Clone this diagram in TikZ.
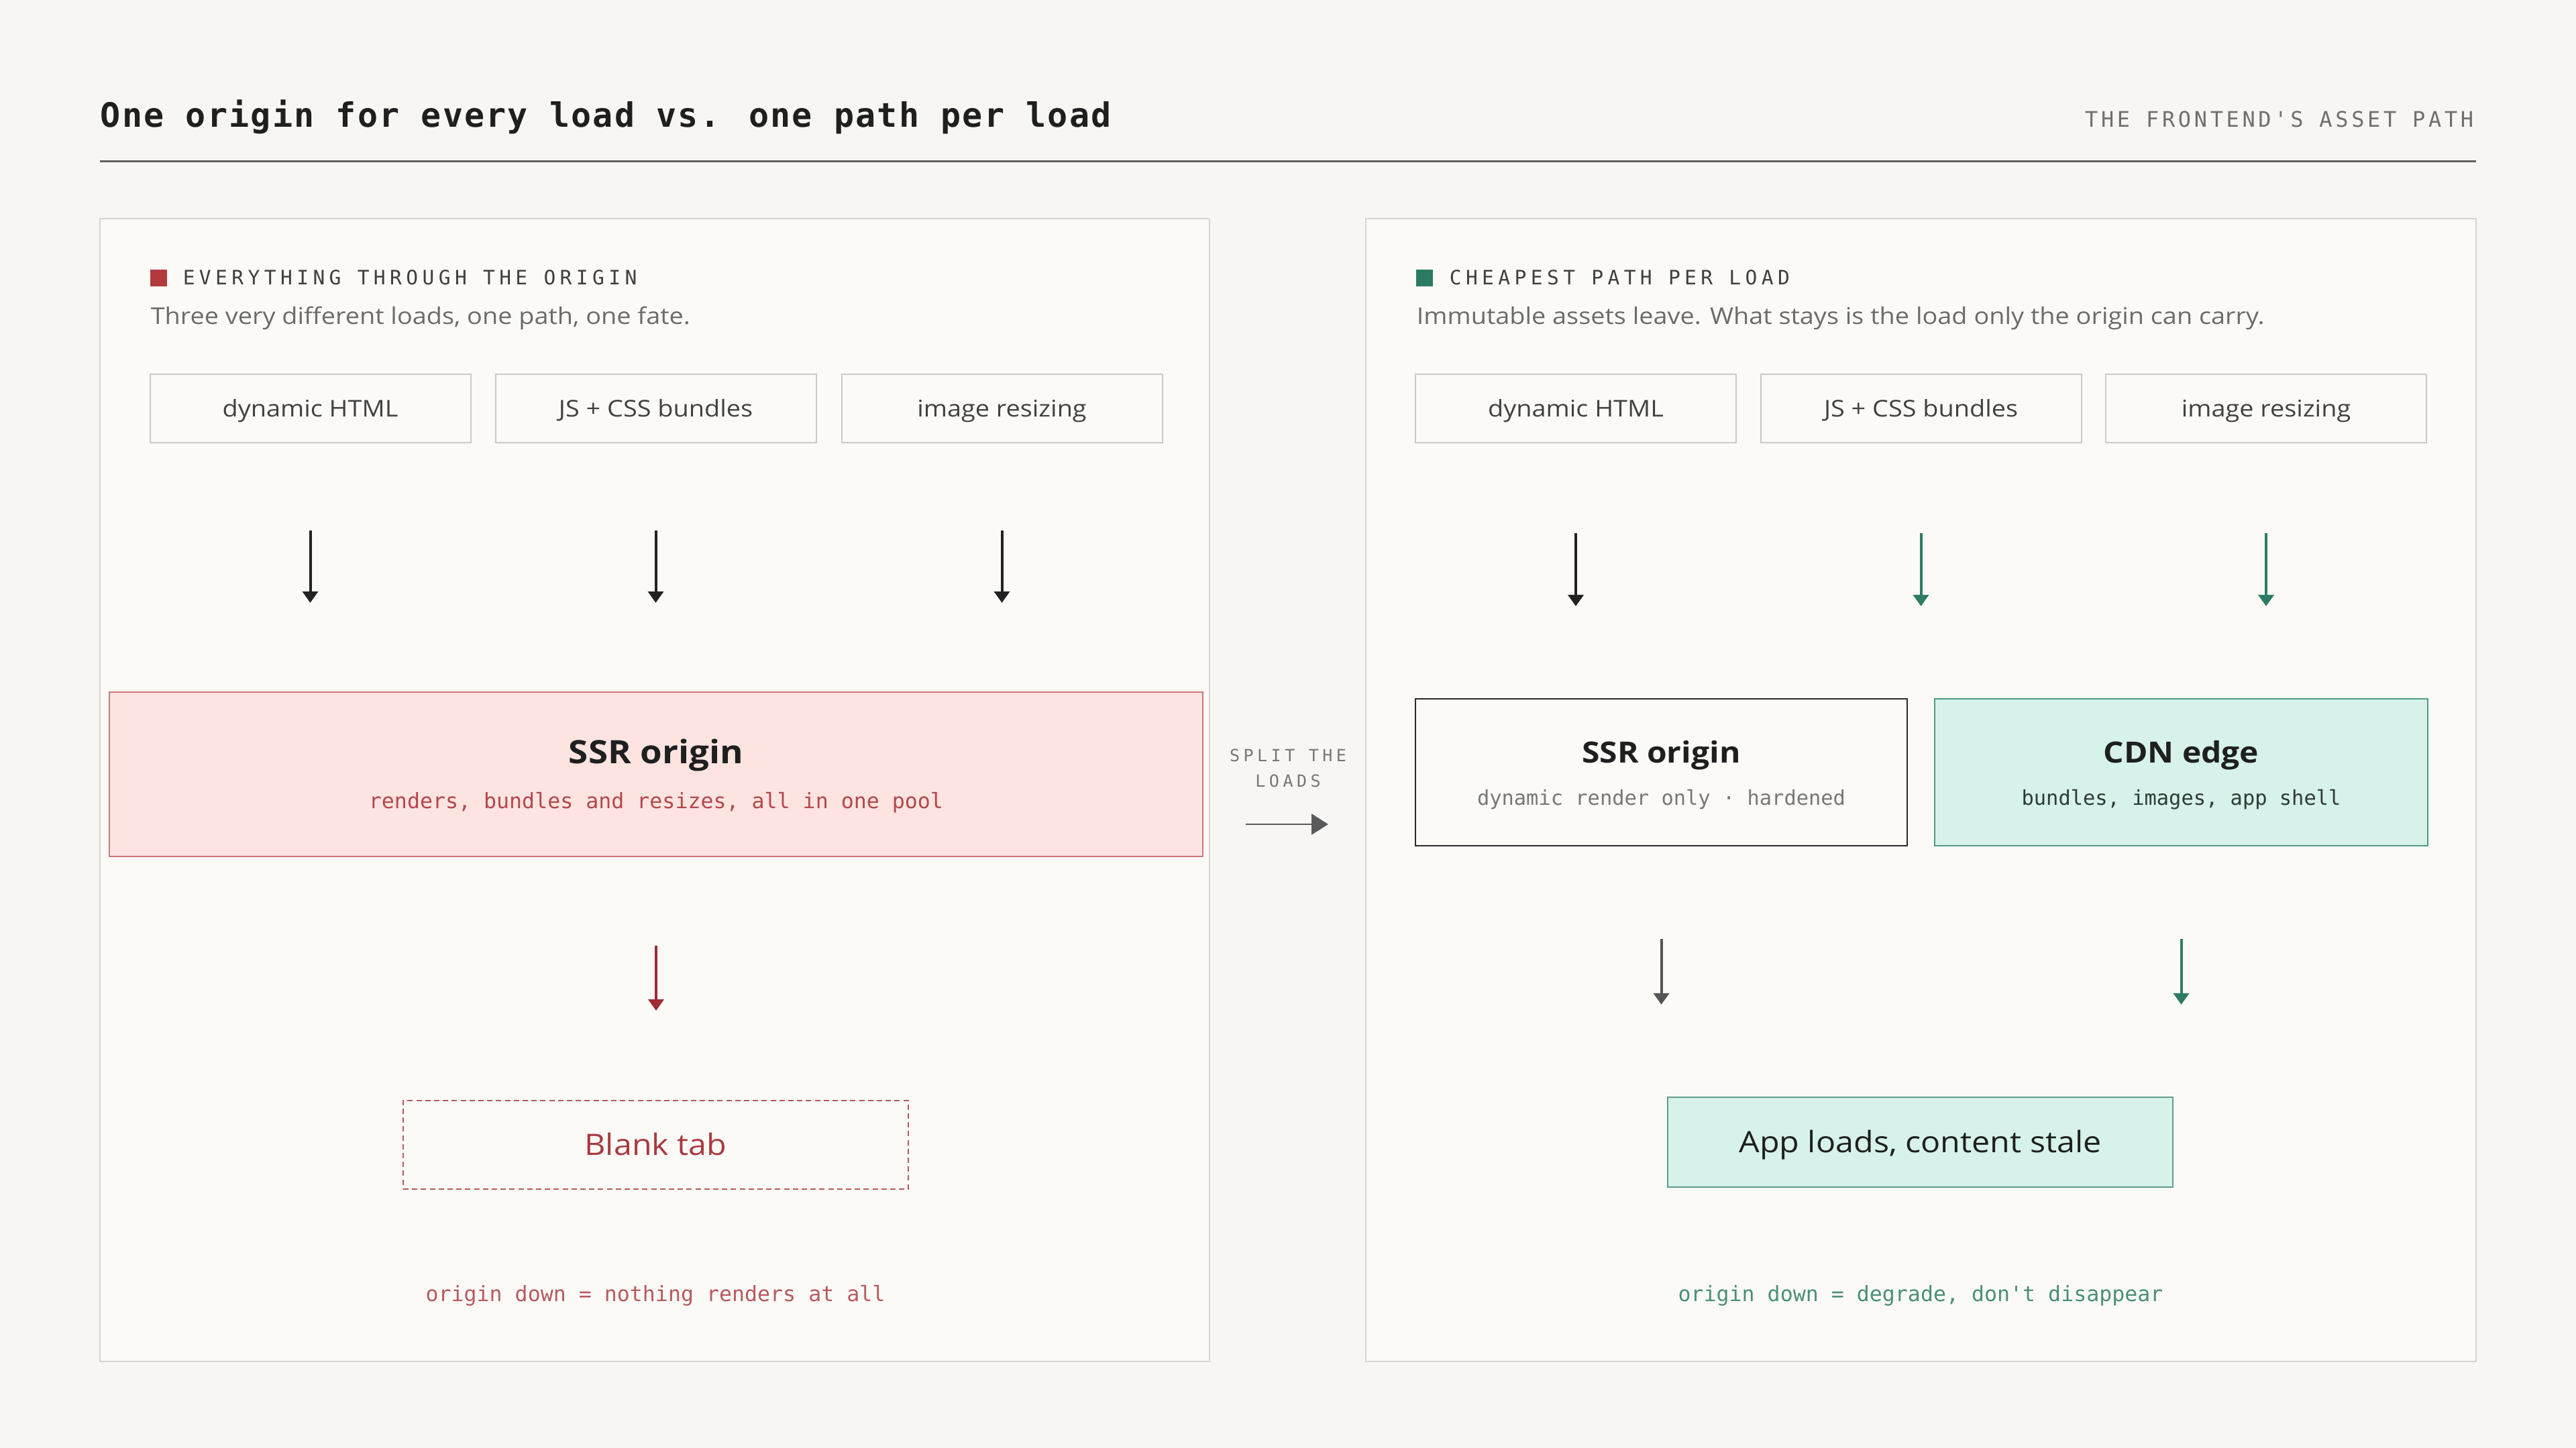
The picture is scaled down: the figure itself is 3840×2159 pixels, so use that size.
\documentclass[tikz,border=0pt]{standalone}
\usepackage{fontspec}
\setmainfont{Open Sans}[FakeStretch=1.1]
\newfontfamily\monof{DejaVu Sans Mono}
\newfontfamily\labf{DejaVu Sans Mono}[LetterSpace=21.6]
\newfontfamily\tagf{DejaVu Sans Mono}[LetterSpace=14.5]
\newfontfamily\splitf{DejaVu Sans Mono}[LetterSpace=22]
\newfontfamily\titlef{DejaVu Sans Mono}[LetterSpace=4.4]
\usetikzlibrary{arrows.meta}
\definecolor{bg}{HTML}{F8F6F2}
\definecolor{panelf}{HTML}{FBFAF7}
\definecolor{panelb}{HTML}{D8D4CE}
\definecolor{boxf}{HTML}{FBFAF8}
\definecolor{boxb}{HTML}{CDC8C2}
\definecolor{ink}{HTML}{1F1F1F}
\definecolor{subgray}{HTML}{6B6B6B}
\definecolor{labgray}{HTML}{3F3F3F}
\definecolor{tagc}{HTML}{6F6F6F}
\definecolor{rulec}{HTML}{606060}
\definecolor{redacc}{HTML}{B23A3A}
\definecolor{pinkf}{HTML}{FDE4E1}
\definecolor{pinkb}{HTML}{C97A78}
\definecolor{redtxt}{HTML}{B5474B}
\definecolor{redarr}{HTML}{9E2B35}
\definecolor{blankb}{HTML}{B5585A}
\definecolor{blankt}{HTML}{A83A3F}
\definecolor{footr}{HTML}{B85A5E}
\definecolor{greenacc}{HTML}{2C7A62}
\definecolor{greenarr}{HTML}{2E7B65}
\definecolor{mintf}{HTML}{D6F2EA}
\definecolor{mintb}{HTML}{4F9A84}
\definecolor{appb}{HTML}{5E9E8A}
\definecolor{darkb}{HTML}{2A2A2A}
\definecolor{subg2}{HTML}{777777}
\definecolor{cdnsub}{HTML}{2F3B37}
\definecolor{footg}{HTML}{4A9079}
\definecolor{splitc}{HTML}{777777}
\definecolor{splita}{HTML}{5A5A5A}
\definecolor{blackarr}{HTML}{222222}
\definecolor{grayarr}{HTML}{555555}
\begin{document}
\begin{tikzpicture}[x=0.25pt,y=-0.25pt,
  panel/.style={draw=panelb, line width=0.5pt, fill=panelf, inner sep=0pt, minimum height=426pt},
  srcbox/.style={draw=boxb, line width=0.5pt, fill=boxf, minimum width=119.5pt, minimum height=25.5pt, inner sep=0pt,
    font=\fontsize{8.6pt}{10pt}\selectfont, text=ink!85, text height=6.2pt, text depth=0pt},
  sqr/.style={inner sep=0pt, minimum size=6.25pt},
  labtxt/.style={anchor=base west, inner sep=0pt, font=\labf\fontsize{7.4pt}{9pt}\selectfont, text=labgray},
  subtxt/.style={anchor=base west, inner sep=0pt, font=\fontsize{8.6pt}{10pt}\selectfont, text=subgray},
  arr/.style={-{Triangle[width=5.75pt,length=4.25pt]}, line width=1pt},
  monosub/.style={anchor=base, inner sep=0pt},
  bigtitle/.style={anchor=base, inner sep=0pt, text=ink},
  outbox/.style={inner sep=0pt, minimum width=188.25pt, minimum height=33pt, font=\fontsize{11pt}{13pt}\selectfont, text height=7.9pt, text depth=0pt}
]
\fill[bg] (0,0) rectangle (3840,2159);
\useasboundingbox (0,0) rectangle (3840,2159);

% header
\node[anchor=base west, inner sep=0pt, font=\titlef\bfseries\fontsize{12.5pt}{15pt}\selectfont, text=ink] (title) at (149,190) {One origin for every load vs. one path per load};
\node[anchor=base east, inner sep=0pt, font=\tagf\fontsize{8pt}{10pt}\selectfont, text=tagc] (tag) at (3688,190) {THE FRONTEND'S ASSET PATH};
\draw[rulec, line width=0.75pt] (149,241) -- (3691,241);

% panels
\node[panel, minimum width=413.5pt] (lpanel) at (976,1178) {};
\node[panel, minimum width=413.75pt] (rpanel) at (2863.5,1178) {};

% ---------- left panel ----------
\node[sqr, fill=redacc] (lsq) at (236.5,414.5) {};
\node[labtxt] (lhead) at (272,425) {EVERYTHING THROUGH THE ORIGIN};
\node[subtxt] (lsub) at (224,484) {Three very different loads, one path, one fate.};

\node[srcbox] (lb1) at (462.5,609) {dynamic HTML};
\node[srcbox] (lb2) at (977.5,609) {JS + CSS bundles};
\node[srcbox] (lb3) at (1493.5,609) {image resizing};

\node[draw=pinkb, line width=0.6pt, fill=pinkf, inner sep=0pt, minimum width=407.5pt, minimum height=61.25pt] (ssrL) at (978,1154.5) {};
\node[bigtitle, font=\bfseries\fontsize{12pt}{14pt}\selectfont] (ssrLt) at (978,1138) {SSR origin};
\node[monosub, font=\monof\fontsize{7.9pt}{9pt}\selectfont, text=redtxt] (ssrLs) at (978,1205) {renders, bundles and resizes, all in one pool};

\draw[arr, blackarr, shorten <=32.5pt, shorten >=33pt] (lb1.south) -- (lb1.south |- ssrL.north);
\draw[arr, blackarr, shorten <=32.5pt, shorten >=33pt] (lb2.south) -- (lb2.south |- ssrL.north);
\draw[arr, blackarr, shorten <=32.5pt, shorten >=33pt] (lb3.south) -- (lb3.south |- ssrL.north);

\node[outbox, draw=blankb, line width=0.5pt, dash pattern=on 2pt off 1.3pt, fill=panelf, text=blankt] (blank) at (977.5,1707) {Blank tab};
\draw[arr, redarr, shorten <=33pt, shorten >=33.25pt] (ssrL.south) -- (ssrL.south |- blank.north);

\node[monosub, font=\monof\fontsize{7.9pt}{9pt}\selectfont, text=footr] (lfoot) at (977,1940) {origin down = nothing renders at all};

% ---------- split ----------
\node[anchor=base, inner sep=0pt, font=\splitf\fontsize{6.25pt}{8pt}\selectfont, text=splitc] (split1) at (1920,1135) {SPLIT THE};
\node[anchor=base, inner sep=0pt, font=\splitf\fontsize{6.25pt}{8pt}\selectfont, text=splitc] (split2) at (1920,1173) {LOADS};
\draw[-{Triangle[width=7.75pt,length=6.25pt]}, splita, line width=0.7pt, shorten <=13.25pt, shorten >=13.75pt] (lpanel.east |- 0,1229) -- (rpanel.west |- 0,1229);

% ---------- right panel ----------
\node[sqr, fill=greenacc] (rsq) at (2123.5,414.5) {};
\node[labtxt] (rhead) at (2160,425) {CHEAPEST PATH PER LOAD};
\node[subtxt] (rsub) at (2111,484) {Immutable assets leave. What stays is the load only the origin can carry.};

\node[srcbox] (rb1) at (2349,609) {dynamic HTML};
\node[srcbox] (rb2) at (2863.5,609) {JS + CSS bundles};
\node[srcbox] (rb3) at (3378,609) {image resizing};

\node[draw=darkb, line width=0.55pt, fill=panelf, inner sep=0pt, minimum width=183.25pt, minimum height=54.75pt] (ssrR) at (2476.5,1151.5) {};
\node[bigtitle, font=\bfseries\fontsize{10.9pt}{13pt}\selectfont] (ssrRt) at (2476.5,1137) {SSR origin};
\node[monosub, font=\monof\fontsize{7.6pt}{9pt}\selectfont, text=subg2] (ssrRs) at (2476.5,1200) {dynamic render only · hardened};

\node[draw=mintb, line width=0.55pt, fill=mintf, inner sep=0pt, minimum width=183.75pt, minimum height=54.75pt] (cdn) at (3251.5,1151.5) {};
\node[bigtitle, font=\bfseries\fontsize{10.9pt}{13pt}\selectfont] (cdnt) at (3251.5,1137) {CDN edge};
\node[monosub, font=\monof\fontsize{7.6pt}{9pt}\selectfont, text=cdnsub] (cdns) at (3251.5,1200) {bundles, images, app shell};

\draw[arr, blackarr, shorten <=33.5pt, shorten >=34.25pt] (rb1.south) -- (rb1.south |- ssrR.north);
\draw[arr, greenarr, shorten <=33.5pt, shorten >=34.25pt] (rb2.south) -- (rb2.south |- cdn.north);
\draw[arr, greenarr, shorten <=33.5pt, shorten >=34.25pt] (rb3.south) -- (rb3.south |- cdn.north);

\node[outbox, draw=appb, line width=0.55pt, fill=mintf, text=ink, minimum height=33.5pt] (app) at (2862.5,1703) {App loads, content stale};
\draw[arr, grayarr, shorten <=34.5pt, shorten >=34.25pt] (ssrR.south) -- (ssrR.south |- app.north);
\draw[arr, greenarr, shorten <=34.5pt, shorten >=34.25pt] (cdn.south) -- (cdn.south |- app.north);

\node[monosub, font=\monof\fontsize{7.9pt}{9pt}\selectfont, text=footg] (rfoot) at (2863,1940) {origin down = degrade, don't disappear};
\end{tikzpicture}
\end{document}
